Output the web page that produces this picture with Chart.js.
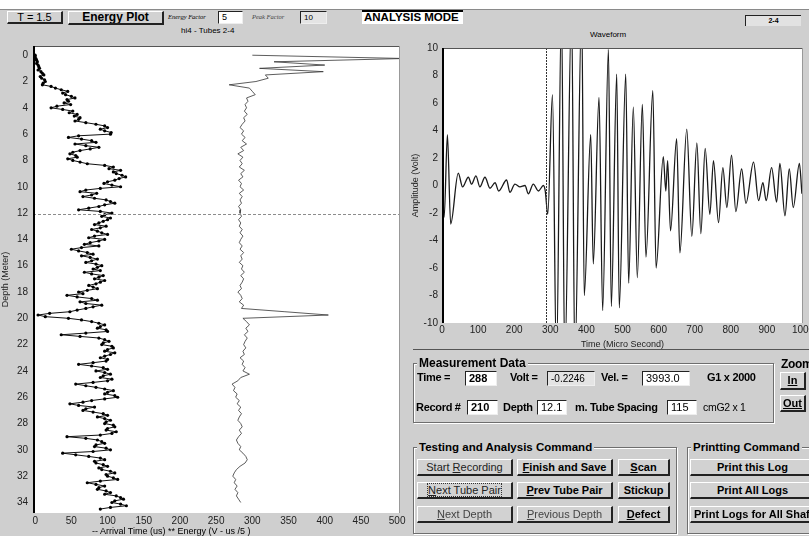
<!DOCTYPE html>
<html>
<head>
<meta charset="utf-8">
<script src="https://cdn.jsdelivr.net/npm/chart.js@4/dist/chart.umd.min.js"></script>
<style>
  body{margin:0;width:809px;height:536px;overflow:hidden;position:relative;background:#cfcfcf;font-family:"Liberation Sans",Arial,sans-serif;color:#000}
  .a{position:absolute;white-space:nowrap}
  .btn{position:absolute;box-sizing:border-box;background:#d2d2d2;border-top:1px solid #fff;border-left:1px solid #fff;border-right:2px solid #222;border-bottom:2px solid #222;font-weight:bold;font-size:11px;text-align:center;white-space:nowrap;overflow:hidden}
  .fld{position:absolute;box-sizing:border-box;background:#fff;border-top:1px solid #222;border-left:1px solid #222;border-right:1px solid #eee;border-bottom:1px solid #eee;font-weight:bold;font-size:11px;padding-left:3px;white-space:nowrap}
  .lbl{position:absolute;font-weight:bold;font-size:11px;white-space:nowrap;letter-spacing:-0.3px}
  .grp{position:absolute;box-sizing:border-box;border:1px solid #6e6e6e;box-shadow:inset 1px 1px 0 #fff,1px 1px 0 #fff}
  .gt{position:absolute;background:#cfcfcf;font-weight:bold;font-size:11.5px;padding:0 2px;white-space:nowrap;line-height:12px}
  canvas{position:absolute}
</style>
</head>
<body>
<div class="a" style="left:0;top:0;width:809px;height:9px;background:#fff"></div>
<div class="a" style="left:0;top:9px;width:809px;height:1px;background:#8a8a8a"></div>

<!-- top toolbar -->
<div class="btn" style="left:7px;top:11px;width:56px;height:13px;font-size:11px;line-height:10px;font-weight:normal">T = 1.5</div>
<div class="btn" style="left:68px;top:11px;width:96px;height:14px;font-size:12px;line-height:11px">Energy Plot</div>
<div class="a" style="left:168px;top:13px;font-size:6.5px;font-style:italic;font-family:'Liberation Serif',serif">Energy Factor</div>
<div class="fld" style="left:218px;top:11px;width:25px;height:13px;font-size:9px;line-height:11px;font-weight:normal">5</div>
<div class="a" style="left:252px;top:13px;font-size:6.5px;font-style:italic;font-family:'Liberation Serif',serif;color:#444">Peak Factor</div>
<div class="fld" style="left:300px;top:11px;width:27px;height:13px;font-size:8px;line-height:11px;font-weight:normal;background:#e4e4e4">10</div>
<div class="a" style="left:362px;top:10px;width:101px;height:14px;background:#fff;border-top:2px solid #000;box-sizing:border-box;font-weight:bold;font-size:11.5px;line-height:11px;padding-left:2px">ANALYSIS MODE</div>
<div class="a" style="left:745px;top:15px;width:56px;height:11px;background:#e2e2e2;border-top:1px solid #222;border-left:1px solid #222;box-sizing:border-box;font-weight:bold;font-size:7px;line-height:9px;text-align:center">2-4</div>

<div class="a" style="left:181px;top:26px;font-size:8px">hi4 - Tubes 2-4</div>
<div class="a" style="left:590px;top:30px;font-size:8px">Waveform</div>

<canvas id="logChart" width="408" height="496" style="left:0;top:40px"></canvas>
<canvas id="waveChart" width="399" height="310" style="left:410px;top:40px"></canvas>

<div class="a" style="left:92px;top:526px;font-size:9px">-- Arrival Time (us) ** Energy (V - us /5 )</div>

<div class="a" style="left:413px;top:349px;width:396px;height:1px;background:#555"></div>

<!-- measurement panel -->
<div class="grp" style="left:413px;top:363px;width:361px;height:60px"></div>
<div class="gt" style="left:417px;top:357px;font-size:12px">Measurement Data</div>
<div class="lbl" style="left:417px;top:371px">Time =</div>
<div class="fld" style="left:465px;top:371px;width:32px;height:15px;line-height:13px">288</div>
<div class="lbl" style="left:510px;top:371px">Volt =</div>
<div class="fld" style="left:547px;top:371px;width:48px;height:15px;line-height:13px;background:#e4e4e4;font-weight:normal;font-size:10px">-0.2246</div>
<div class="lbl" style="left:601px;top:371px">Vel. =</div>
<div class="fld" style="left:642px;top:371px;width:48px;height:15px;line-height:13px;font-weight:normal;font-size:11px">3993.0</div>
<div class="lbl" style="left:707px;top:371px">G1 x 2000</div>

<div class="lbl" style="left:416px;top:401px">Record #</div>
<div class="fld" style="left:467px;top:400px;width:31px;height:15px;line-height:13px">210</div>
<div class="lbl" style="left:503px;top:401px">Depth</div>
<div class="fld" style="left:537px;top:400px;width:30px;height:15px;line-height:13px;font-weight:normal">12.1</div>
<div class="lbl" style="left:575px;top:401px">m. Tube Spacing</div>
<div class="fld" style="left:667px;top:400px;width:30px;height:15px;line-height:13px;font-weight:normal">115</div>
<div class="lbl" style="left:703px;top:401px;font-weight:normal;font-size:10.5px">cmG2 x 1</div>

<div class="lbl" style="left:781px;top:357px;font-size:12px">Zoom</div>
<div class="btn" style="left:780px;top:372px;width:26px;height:18px;line-height:15px"><u>In</u></div>
<div class="btn" style="left:780px;top:395px;width:26px;height:17px;line-height:14px"><u>Out</u></div>

<!-- testing and analysis commands -->
<div class="grp" style="left:413px;top:447px;width:264px;height:87px"></div>
<div class="gt" style="left:417px;top:441px">Testing and Analysis Command</div>
<div class="btn" style="left:417px;top:459px;width:96px;height:17px;line-height:14px;font-weight:normal;color:#222">Start <u>R</u>ecording</div>
<div class="btn" style="left:517px;top:459px;width:96px;height:17px;line-height:14px"><u>F</u>inish and Save</div>
<div class="btn" style="left:618px;top:459px;width:52px;height:17px;line-height:14px"><u>S</u>can</div>
<div class="btn" style="left:417px;top:482px;width:96px;height:17px;line-height:14px;font-weight:normal;color:#222"><span style="outline:1px dotted #333;outline-offset:0"><u>N</u>ext Tube Pair</span></div>
<div class="btn" style="left:517px;top:482px;width:96px;height:17px;line-height:14px"><u>P</u>rev Tube Pair</div>
<div class="btn" style="left:618px;top:482px;width:52px;height:17px;line-height:14px">Stickup</div>
<div class="btn" style="left:417px;top:506px;width:96px;height:17px;line-height:14px;font-weight:normal;color:#444"><u>N</u>ext Depth</div>
<div class="btn" style="left:517px;top:506px;width:96px;height:17px;line-height:14px;font-weight:normal;color:#444"><u>P</u>revious Depth</div>
<div class="btn" style="left:618px;top:506px;width:52px;height:17px;line-height:14px"><u>D</u>efect</div>

<!-- printing commands -->
<div class="grp" style="left:687px;top:447px;width:130px;height:87px"></div>
<div class="gt" style="left:691px;top:441px">Printting Command</div>
<div class="btn" style="left:690px;top:459px;width:124px;height:17px;line-height:14px;text-align:left;padding-left:26px">Print this Log</div>
<div class="btn" style="left:690px;top:482px;width:124px;height:17px;line-height:14px;text-align:left;padding-left:26px">Print All Logs</div>
<div class="btn" style="left:690px;top:506px;width:124px;height:17px;line-height:14px;text-align:left;padding-left:3px">Print Logs for All Shafts</div>

<script>
// ---- depth log ----
// first arrival time, microseconds, every 0.125 m from the top
const ARRIVAL_DEPTH_STEP = 0.125;
const arrivalTime = [
  0, 0, 1, 2, 3, 2, 4, 5, 6, 4, 8, 10, 12, 7, 9, 13,
  14, 11, 10, 22, 28, 36, 45, 38, 42, 50, 55, 44, 46, 40, 49, 30,
  22, 38, 52, 47, 58, 54, 62, 60, 55, 70, 84, 96, 100, 90, 96, 105,
  104, 60, 46, 64, 78, 84, 55, 70, 88, 76, 62, 52, 48, 56, 58, 45,
  52, 62, 72, 96, 108, 102, 118, 108, 112, 120, 125, 116, 110, 100, 95, 106,
  118, 90, 70, 62, 85, 78, 66, 82, 98, 104, 110, 96, 88, 74, 60, 90,
  106, 96, 92, 104, 100, 94, 88, 82, 98, 90, 78, 86, 92, 100, 82, 74,
  96, 88, 76, 68, 88, 64, 50, 60, 72, 80, 64, 76, 86, 78, 70, 84,
  92, 86, 80, 90, 68, 78, 94, 88, 82, 96, 90, 84, 74, 80, 86, 72,
  60, 66, 44, 58, 78, 86, 62, 70, 92, 80, 70, 58, 48, 20, 4, 14,
  46, 64, 78, 88, 96, 90, 86, 98, 100, 70, 36, 62, 88, 96, 102, 94,
  92, 106, 108, 100, 96, 110, 104, 96, 90, 100, 98, 80, 60, 78, 94, 100,
  84, 96, 104, 94, 90, 106, 100, 80, 56, 70, 84, 96, 108, 100, 96, 110,
  114, 96, 78, 66, 48, 60, 82, 70, 66, 80, 94, 100, 86, 96, 104, 98,
  96, 108, 110, 100, 98, 112, 106, 90, 44, 70, 86, 92, 96, 84, 82, 98,
  104, 80, 38, 56, 74, 90, 96, 82, 84, 94, 100, 88, 92, 104, 110, 98,
  100, 108, 114, 90, 72, 84, 96, 88, 86, 98, 104, 96, 112, 118, 122, 110,
  106, 118, 126, 104, 90
];

// signal energy, V-us / 5, every 0.25 m from the top
const ENERGY_DEPTH_STEP = 0.25;
const energy = [
  300, 510, 330, 400, 310, 398, 318, 322, 305, 268, 296, 300, 304, 292, 294, 290,
  292, 289, 293, 288, 290, 286, 283, 288, 285, 290, 286, 292, 284, 288, 280, 287,
  283, 286, 282, 289, 284, 287, 281, 285, 283, 288, 282, 286, 283, 285, 281, 284,
  283, 285, 281, 284, 282, 286, 283, 287, 284, 282, 286, 283, 288, 284, 286, 282,
  287, 285, 289, 284, 288, 286, 283, 285, 280, 284, 286, 282, 288, 285, 345, 405,
  287, 292, 296, 291, 294, 289, 293, 290, 288, 291, 287, 289, 283, 288, 286, 290,
  287, 296, 284, 280, 272, 276, 274, 279, 277, 282, 279, 284, 281, 285, 282, 280,
  284, 286, 282, 285, 281, 278, 280, 284, 282, 287, 291, 293, 290, 283, 278, 275,
  273, 277, 275, 279, 276, 280, 278, 281, 284
];

const logXTicks = [0, 50, 100, 150, 200, 250, 300, 350, 400, 450, 500];
const logYTicks = [0, 2, 4, 6, 8, 10, 12, 14, 16, 18, 20, 22, 24, 26, 28, 30, 32, 34];
const currentDepth = 12.1;

// ---- waveform at the current depth (turning points) ----
const waveTime = [
  0, 6, 15, 24, 45, 57, 73, 82, 94, 105, 119, 133, 147, 157, 179, 188,
  202, 216, 230, 239, 253, 267, 281, 286, 293, 306, 317, 331, 340, 359, 368, 387,
  394, 412, 419, 435, 445, 461, 469, 484, 491, 509, 517, 530, 541, 555, 565, 584,
  593, 613, 620, 625, 633, 650, 659, 678, 692, 706, 717, 729, 742, 752, 766, 778,
  789, 802, 814, 830, 842, 863, 877, 889, 898, 913, 927, 936, 950, 962, 973, 990, 997
];
const waveVolt = [
  0.0, -2.3, 3.7, -2.8, 0.9, -0.1, 0.6, 0.1, 0.7, -0.1, 0.6, -0.2, 0.2, -0.4, 0.4, -0.5,
  0.1, -0.1, 0.0, -0.6, 0.1, -0.4, 0.0, -0.4, -2.1, 6.6, -13, 13, -13, 13, -13, 13,
  -8.0, 3.7, -5.7, 6.4, -9.1, 9.9, -8.8, 8.1, -8.9, 8.1, -7.1, 5.7, -6.7, 5.9, -5.2, 6.9,
  -6.0, 2.1, -0.4, 1.8, -3.3, 3.4, -4.9, 4.1, -3.7, 3.1, -3.5, 2.7, -2.1, 1.8, -2.7, 1.3,
  -1.6, 2.2, -1.9, 1.2, -1.3, 1.7, -1.1, 0.2, -1.1, 1.3, -1.2, 1.6, -2.2, 1.2, -1.6, 1.6, -0.6
];
const waveXTicks = [0, 100, 200, 300, 400, 500, 600, 700, 800, 900, 1000];
const waveYTicks = [-10, -8, -6, -4, -2, 0, 2, 4, 6, 8, 10];
const cursorTime = 288;

// ---- helpers ----
const depthPairs = (values, step) => values.map((x, i) => ({x, y: i * step}));
const pairs = (xs, ys) => xs.map((x, i) => ({x, y: ys[i]}));

// white plot area with a heavy left border, plus a cursor line
const plotFrame = {
  id: 'plotFrame',
  beforeDatasetsDraw(chart) {
    const {ctx, chartArea: a} = chart;
    ctx.save();
    ctx.fillStyle = '#fff';
    ctx.fillRect(a.left, a.top, a.right - a.left, a.bottom - a.top);
    ctx.restore();
  },
  afterDatasetsDraw(chart, args, o) {
    const {ctx, chartArea: a} = chart;
    ctx.save();
    if (o.cursor) {
      ctx.strokeStyle = o.cursor.color;
      ctx.lineWidth = 1;
      ctx.setLineDash(o.cursor.dash || []);
      ctx.beginPath();
      if (o.cursor.axis === 'y') {
        const y = Math.round(chart.scales.y.getPixelForValue(o.cursor.value)) + 0.5;
        ctx.moveTo(a.left, y); ctx.lineTo(a.right, y);
      } else {
        const x = Math.round(chart.scales.x.getPixelForValue(o.cursor.value)) + 0.5;
        ctx.moveTo(x, a.top); ctx.lineTo(x, a.bottom);
      }
      ctx.stroke();
      ctx.setLineDash([]);
    }
    ctx.strokeStyle = '#555';
    ctx.lineWidth = 1;
    ctx.beginPath();
    ctx.moveTo(a.left, a.top + 0.5); ctx.lineTo(a.right, a.top + 0.5);
    ctx.stroke();
    ctx.strokeStyle = '#999';
    ctx.beginPath();
    ctx.moveTo(a.right - 0.5, a.top); ctx.lineTo(a.right - 0.5, a.bottom);
    ctx.stroke();
    ctx.strokeStyle = '#000';
    ctx.lineWidth = 2;
    ctx.beginPath();
    ctx.moveTo(a.left + 1, a.top); ctx.lineTo(a.left + 1, a.bottom);
    ctx.stroke();
    ctx.restore();
  }
};

const tickFont = {family: 'Liberation Sans, Arial, sans-serif', size: 10};
const titleFont = {family: 'Liberation Sans, Arial, sans-serif', size: 9};
const fixed = (list) => (scale) => { scale.ticks = list.map(v => ({value: v})); };
const plain = (v) => String(v);
const fitY = (w) => (s) => { s.width = w; s.paddingTop = 0; s.paddingBottom = 0; };
const fitX = (h) => (s) => { s.height = h; s.paddingLeft = 0; s.paddingRight = 0; };

new Chart(document.getElementById('logChart'), {
  type: 'scatter',
  data: {
    datasets: [
      {
        label: 'Arrival Time',
        data: depthPairs(arrivalTime, ARRIVAL_DEPTH_STEP),
        showLine: true,
        borderColor: '#111',
        borderWidth: 1,
        pointRadius: 1.6,
        pointBackgroundColor: '#000',
        pointBorderColor: '#000',
        pointBorderWidth: 0
      },
      {
        label: 'Energy',
        data: depthPairs(energy, ENERGY_DEPTH_STEP),
        showLine: true,
        borderColor: '#333',
        borderWidth: 0.8,
        pointRadius: 0
      }
    ]
  },
  options: {
    responsive: false,
    animation: false,
    devicePixelRatio: 1,
    layout: {padding: {top: 6, right: 8, left: 0, bottom: 0}},
    plugins: {
      legend: {display: false},
      tooltip: {enabled: false},
      plotFrame: {cursor: {axis: 'y', value: currentDepth, color: '#8c8c8c', dash: [3, 2]}}
    },
    scales: {
      x: {
        type: 'linear', min: -3, max: 504,
        afterBuildTicks: fixed(logXTicks),
        afterFit: fitX(23),
        grid: {display: false, drawTicks: false},
        border: {display: false},
        ticks: {font: tickFont, color: '#222', padding: 2, maxRotation: 0, autoSkip: false, callback: plain}
      },
      y: {
        type: 'linear', reverse: true, min: -0.7, max: 34.8,
        afterBuildTicks: fixed(logYTicks),
        afterFit: fitY(33),
        grid: {display: false, drawTicks: false},
        border: {display: false},
        ticks: {font: tickFont, color: '#222', padding: 5, autoSkip: false, callback: plain},
        title: {display: true, text: 'Depth (Meter)', font: titleFont, color: '#222', padding: 0}
      }
    }
  },
  plugins: [plotFrame]
});

new Chart(document.getElementById('waveChart'), {
  type: 'scatter',
  data: {
    datasets: [{
      label: 'Waveform',
      data: pairs(waveTime, waveVolt),
      showLine: true,
      borderColor: '#1a1a1a',
      borderWidth: 1.3,
      pointRadius: 0,
      cubicInterpolationMode: 'monotone'
    }]
  },
  options: {
    responsive: false,
    animation: false,
    devicePixelRatio: 1,
    layout: {padding: {top: 8, right: 6, left: 0, bottom: 0}},
    plugins: {
      legend: {display: false},
      tooltip: {enabled: false},
      plotFrame: {cursor: {axis: 'x', value: cursorTime, color: '#333', dash: [2, 1]}}
    },
    scales: {
      x: {
        type: 'linear', min: 0, max: 1000,
        afterBuildTicks: fixed(waveXTicks),
        afterFit: fitX(27),
        grid: {display: false, drawTicks: false},
        border: {display: false},
        ticks: {font: tickFont, color: '#222', padding: 1, maxRotation: 0, autoSkip: false, callback: plain},
        title: {display: true, text: 'Time (Micro Second)', font: titleFont, color: '#222', padding: 0}
      },
      y: {
        type: 'linear', min: -10, max: 10,
        afterBuildTicks: fixed(waveYTicks),
        afterFit: fitY(32),
        grid: {display: false, drawTicks: false},
        border: {display: false},
        ticks: {font: tickFont, color: '#222', padding: 4, autoSkip: false, callback: plain},
        title: {display: true, text: 'Amplitude (Volt)', font: titleFont, color: '#222', padding: 0}
      }
    }
  },
  plugins: [plotFrame]
});
</script>
</body>
</html>
